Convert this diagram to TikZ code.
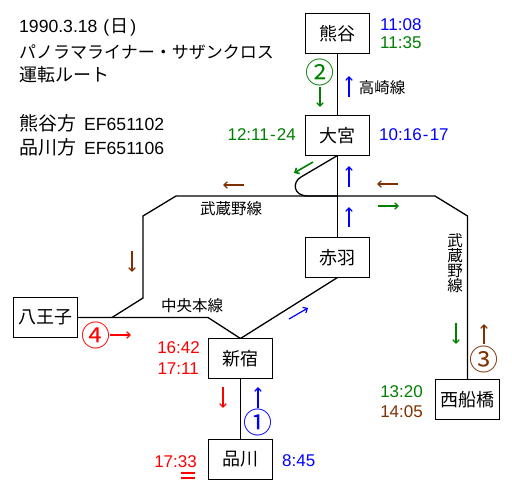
\documentclass[tikz,border=0pt]{standalone}
\usepackage{fontspec}
\setmainfont{Liberation Sans}
\newfontfamily\cjk{Noto Sans CJK JP}
\usetikzlibrary{arrows.meta, positioning}
\definecolor{routeblue}{RGB}{0,0,255}
\definecolor{routegreen}{RGB}{0,128,0}
\definecolor{routebrown}{RGB}{128,48,0}
\definecolor{routered}{RGB}{255,0,0}
\tikzset{
  station/.style={
    rectangle, draw=black, fill=white, line width=1.5pt,
    minimum width=64pt, minimum height=40pt, inner sep=0pt, outer sep=0pt,
    font=\fontsize{18}{18}\selectfont\cjk
  },
  track/.style={line width=1.3pt, color=black},
  dirarrow/.style={line width=1.2pt, -{Straight Barb[length=3.5pt,width=6.5pt]}},
  timelabel/.style={inner sep=0pt, font=\fontsize{17}{17}\selectfont},
  linelabel/.style={inner sep=0pt, font=\fontsize{15.5}{15.5}\selectfont\cjk},
  headline/.style={anchor=west, inner sep=0pt, font=\fontsize{18}{18}\selectfont\cjk},
  turnnum/.style={inner sep=0pt, font=\fontsize{29}{29}\selectfont\cjk},
}
\newcommand{\latinpart}[1]{{\fontsize{17.6}{18}\selectfont\normalfont #1}}
\begin{document}
\begin{tikzpicture}[x=1pt, y=-1pt]
  \useasboundingbox (0,0) rectangle (512,493);

  \node (kumagaya)  [station] at (337.5,33.5)  {熊谷};
  \node (omiya)     [station, below=62pt of kumagaya] {大宮};
  \node (akabane)   [station, below=82pt of omiya]    {赤羽};
  \node (shinjuku)  [station] at (240.5,358.5) {新宿};
  \node (shinagawa) [station, below=61pt of shinjuku] {品川};
  \node (hachioji)  [station] at (45.5,317.5)  {八王子};
  \node (nishifuna) [station] at (467.5,399.5) {西船橋};

  % 武蔵野線
  \coordinate (mwest)  at (176,196);
  \coordinate (mwest1) at (143,216);
  \coordinate (mwest2) at (143,298);
  \coordinate (mwest3) at (112,317.5);
  \coordinate (meast)  at (435,196);
  \coordinate (meast1) at (467.5,216);
  \coordinate (cross)  at (337.5,196);
  \coordinate (loop1)  at (301,177);
  \coordinate (loop2)  at (308,196);
  \coordinate (chuo1)  at (208,317.5);

  \draw [track] (kumagaya) -- (omiya);
  \draw [track] (omiya) -- (akabane);
  \draw [track] (shinjuku) -- (shinagawa);
  \draw [track] (akabane.south) -- (shinjuku.north);
  \draw [track] (hachioji) -- (chuo1) -- (shinjuku.north);
  \draw [track] (mwest3) -- (mwest2) -- (mwest1) -- (mwest) -- (meast) -- (meast1) -- (nishifuna.north);
  \draw [track] (omiya.south) -- (loop1) .. controls (292,182) and (293,196) .. (loop2) -- (cross);

  % arrows
  \coordinate (a1s)  at (258,408);   \coordinate (a1e)  at (258,387);
  \coordinate (a2s)  at (289,319);   \coordinate (a2e)  at (308,308);
  \coordinate (a3s)  at (349,227);   \coordinate (a3e)  at (349,207);
  \coordinate (a4s)  at (349,187);   \coordinate (a4e)  at (349,166);
  \coordinate (a5s)  at (349,97);    \coordinate (a5e)  at (349,76);
  \coordinate (b1s)  at (320,87);    \coordinate (b1e)  at (320,107);
  \coordinate (b2s)  at (313,162);   \coordinate (b2e)  at (294,173);
  \coordinate (b3s)  at (378,206);   \coordinate (b3e)  at (399,206);
  \coordinate (b4s)  at (456,323);   \coordinate (b4e)  at (456,344);
  \coordinate (c1s)  at (484,344);   \coordinate (c1e)  at (484,324);
  \coordinate (c2s)  at (398,184);   \coordinate (c2e)  at (377,184);
  \coordinate (c3s)  at (244,185);   \coordinate (c3e)  at (223,185);
  \coordinate (c4s)  at (132,251);   \coordinate (c4e)  at (132,272);
  \coordinate (d1s)  at (110,335);   \coordinate (d1e)  at (131,335);
  \coordinate (d2s)  at (223,387);   \coordinate (d2e)  at (223,408);
  \draw [dirarrow, routeblue] (a1s) -- (a1e);
  \draw [dirarrow, routeblue] (a2s) -- (a2e);
  \draw [dirarrow, routeblue] (a3s) -- (a3e);
  \draw [dirarrow, routeblue] (a4s) -- (a4e);
  \draw [dirarrow, routeblue] (a5s) -- (a5e);
  \draw [dirarrow, routegreen] (b1s) -- (b1e);
  \draw [dirarrow, routegreen, line width=1.6pt] (b2s) -- (b2e);
  \draw [dirarrow, routegreen] (b3s) -- (b3e);
  \draw [dirarrow, routegreen] (b4s) -- (b4e);
  \draw [dirarrow, routebrown] (c1s) -- (c1e);
  \draw [dirarrow, routebrown] (c2s) -- (c2e);
  \draw [dirarrow, routebrown] (c3s) -- (c3e);
  \draw [dirarrow, routebrown] (c4s) -- (c4e);
  \draw [dirarrow, routered] (d1s) -- (d1e);
  \draw [dirarrow, routered] (d2s) -- (d2e);

  \node (num1) [turnnum, text=routeblue]  at (258,422) {①};
  \node (num2) [turnnum, text=routegreen] at (320,72)  {②};
  \node (num3) [turnnum, text=routebrown] at (484,359) {③};
  \node (num4) [turnnum, text=routered]   at (96,335)  {④};

  % times
  \node (t1108) [timelabel, text=routeblue,  anchor=west] at (380,25)  {11:08};
  \node (t1135) [timelabel, text=routegreen, anchor=west] at (380,43)  {11:35};
  \node (t1016) [timelabel, text=routeblue,  anchor=west] at (379,135) {10:16\kern1.2pt-\kern1.2pt 17};
  \node (t1211) [timelabel, text=routegreen, anchor=east] at (296,135) {12:11\kern1.2pt-\kern1.2pt 24};
  \node (t1642) [timelabel, text=routered,   anchor=east] at (200,348) {16:42};
  \node (t1711) [timelabel, text=routered,   anchor=east] at (199,369) {17:11};
  \node (t1733) [timelabel, text=routered,   anchor=east] at (197,462) {17:33};
  \node (t0845) [timelabel, text=routeblue,  anchor=west] at (282,461) {8:45};
  \node (t1320) [timelabel, text=routegreen, anchor=east] at (423,392) {13:20};
  \node (t1405) [timelabel, text=routebrown, anchor=east] at (423,412) {14:05};
  \coordinate (eq1) at (181,473);  \coordinate (eq2) at (195,473);
  \coordinate (eq3) at (181,478);  \coordinate (eq4) at (195,478);
  \draw [routered, line width=1.1pt] (eq1) -- (eq2);
  \draw [routered, line width=1.1pt] (eq3) -- (eq4);

  % line names
  \node (takasaki) [linelabel] at (382,88)  {高崎線};
  \node (chuo)     [linelabel] at (192,306) {中央本線};
  \node (musa1)    [linelabel] at (231,209) {武蔵野線};
  \node (musa2)    [linelabel, align=center] at (455,263.5)
    {武\\[-0.5pt]蔵\\[-0.5pt]野\\[-0.5pt]線};

  % heading
  \node (date)  [headline] at (19,27)  {\latinpart{1990.3.18\kern6pt(}\kern1.5pt 日\kern1.5pt\latinpart{)}};
  \node (train) [headline, font=\fontsize{17}{17}\selectfont\cjk] at (19,52) {パノラマライナー・サザンクロス};
  \node (route) [headline] at (19,75)  {運転ルート};
  \node (ef1)   [headline, font=\fontsize{19}{19}\selectfont\cjk] at (19,123) {熊谷方\kern8pt\latinpart{EF651102}};
  \node (ef2)   [headline, font=\fontsize{19}{19}\selectfont\cjk] at (19,147) {品川方\kern8pt\latinpart{EF651106}};
\end{tikzpicture}
\end{document}
